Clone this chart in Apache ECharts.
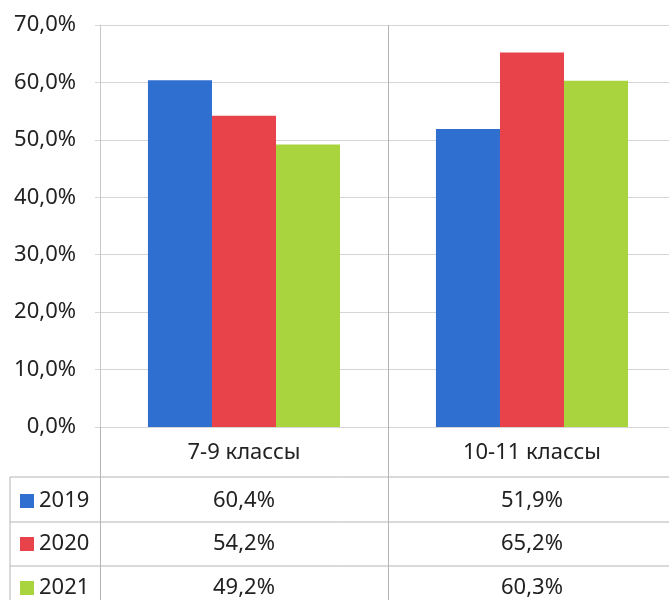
<!DOCTYPE html>
<html>
<head>
<meta charset="utf-8">
<script src="https://cdn.jsdelivr.net/npm/echarts@6/dist/echarts.min.js"></script>
<style>
  html, body { margin: 0; padding: 0; background: #fff; }
  #chart { width: 669px; height: 600px; }
</style>
</head>
<body>
<div id="chart"></div>
<script>
// data
const categories = ['7-9 классы', '10-11 классы'];
const years = ['2019', '2020', '2021'];
const values2019 = [60.4, 51.9];
const values2020 = [54.2, 65.2];
const values2021 = [49.2, 60.3];
const colors = ['#2f6fd0', '#e8434a', '#a9d43d'];

const seriesValues = [values2019, values2020, values2021];
const fmt = v => v.toFixed(1).replace('.', ',') + '%';
const font = 'Noto Sans';
const textColor = '#222';
const gridLine = '#d6d6d6';
const tableLine = '#b4b4b4';
const fontSize = 22;

// table rows sit under the plot, one axis per row
const rowOffsets = [74, 117, 161];
const tableAxes = seriesValues.map((vals, i) => ({
    type: 'category',
    gridIndex: 0,
    position: 'bottom',
    offset: rowOffsets[i],
    data: categories,
    axisLine: { show: false },
    axisTick: { show: false },
    splitLine: { show: false },
    axisLabel: {
        margin: 0,
        verticalAlign: 'middle',
        fontFamily: font,
        fontSize: fontSize,
        color: textColor,
        formatter: (v, idx) => fmt(vals[idx])
    }
}));

// one legend per table row
const legends = years.map((y, i) => ({
    orient: 'vertical',
    left: 20,
    top: 427 + rowOffsets[i] - 11,
    padding: 0,
    icon: 'rect',
    itemWidth: 14,
    itemHeight: 14,
    textStyle: { fontFamily: font, fontSize: fontSize, color: textColor, lineHeight: 22 },
    data: [y]
}));

const option = {
    animation: false,
    grid: { left: 100, top: 25, width: 576, height: 402, containLabel: false, outerBoundsMode: 'none' },
    legend: legends,
    xAxis: [{
        type: 'category',
        data: categories,
        axisLine: { lineStyle: { color: gridLine } },
        axisTick: { show: true, inside: false, length: 173, lineStyle: { color: tableLine } },
        splitLine: { show: true, lineStyle: { color: tableLine } },
        axisLabel: {
            margin: 26,
            verticalAlign: 'middle',
            fontFamily: font,
            fontSize: fontSize,
            color: textColor
        }
    }].concat(tableAxes),
    yAxis: {
        type: 'value',
        min: 0,
        max: 70,
        interval: 10,
        axisLine: { show: true, lineStyle: { color: '#c8c8c8' } },
        axisTick: { show: true, length: 5, lineStyle: { color: gridLine } },
        splitLine: { lineStyle: { color: gridLine } },
        axisLabel: {
            margin: 24,
            fontFamily: font,
            fontSize: fontSize,
            color: textColor,
            formatter: v => fmt(v)
        }
    },
    graphic: [
        { type: 'line', shape: { x1: 10, y1: 477, x2: 669, y2: 477 }, style: { stroke: tableLine, lineWidth: 1 } },
        { type: 'line', shape: { x1: 10, y1: 522, x2: 669, y2: 522 }, style: { stroke: tableLine, lineWidth: 1 } },
        { type: 'line', shape: { x1: 10, y1: 566, x2: 669, y2: 566 }, style: { stroke: tableLine, lineWidth: 1 } },
        { type: 'line', shape: { x1: 10, y1: 477, x2: 10, y2: 600 }, style: { stroke: tableLine, lineWidth: 1 } }
    ],
    series: years.map((y, i) => ({
        name: y,
        type: 'bar',
        xAxisIndex: 0,
        barGap: '0%',
        barCategoryGap: '33.3%',
        itemStyle: { color: colors[i] },
        data: seriesValues[i]
    }))
};

const chart = echarts.init(document.getElementById('chart'));
chart.setOption(option);
</script>
</body>
</html>
